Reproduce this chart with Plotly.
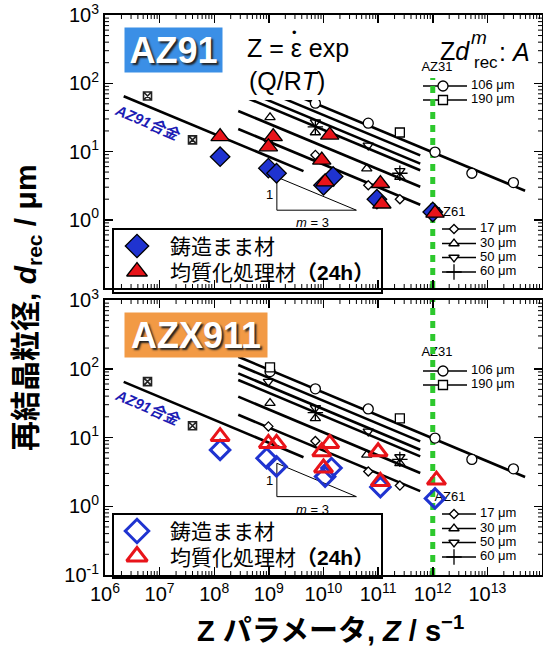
import plotly.graph_objects as go

W, H = 543, 648
FONT = "Liberation Sans, Arial, Noto Sans CJK JP"
JFONT = "Liberation Sans, Noto Sans CJK JP"

# ---------------- data ----------------
z_tick_exp = [6, 7, 8, 9, 10, 11, 12, 13]
d_tick_exp = [-1, 0, 1, 2, 3]

# AZ91 (top panel): as-cast (blue diamonds) / homogenized 24h (red triangles)
az91_cast_Z = [1.28e8, 9.8e8, 1.38e9, 1.5e10, 1.0e10, 9.5e10, 1.0e12]
az91_cast_d = [8.4, 5.7, 4.8, 4.3, 3.2, 2.0, 1.3]
az91_homo_Z = [1.28e8, 1.2e9, 9.8e8, 1.3e10, 9.3e9, 1.07e10, 1.1e11, 1.17e11, 1.1e12]
az91_homo_d = [16.5, 16.5, 11.7, 17.4, 7.5, 3.6, 3.4, 1.7, 1.25]

# AZX911 (bottom panel)
azx_cast_Z = [1.28e8, 9.1e8, 1.38e9, 1.4e10, 1.07e10, 1.1e11, 1.1e12]
azx_cast_d = [6.6, 5.0, 3.8, 3.6, 2.7, 1.9, 1.3]
azx_homo_Z = [1.28e8, 9.8e8, 1.38e9, 1.3e10, 9.3e9, 1.0e10, 1.0e11, 1.1e11, 1.17e12]
azx_homo_d = [10.3, 8.2, 8.2, 8.2, 6.2, 3.6, 6.2, 2.3, 2.4]

# literature: AZ31 (106, 190 um) and AZ61 (17, 30, 50, 60 um)
az31_106_Z = [1.05e9, 7.1e9, 6.6e10, 1.1e12, 5.2e12, 3.0e13]
az31_106_d = [91, 51, 26, 9.8, 4.8, 3.5]
az31_190_Z = [1.05e9, 2.5e11]
az31_190_d = [105, 19]
az61_17_Z = [9.8e8, 7.1e9, 6.6e10, 2.5e11]
az61_17_d = [14.5, 8.9, 3.2, 2.0]
az61_30_Z = [1.05e9, 7.1e9, 6.2e10, 2.5e11]
az61_30_d = [31.6, 19, 5.6, 4.2]
az61_50_Z = [9.8e8, 7.1e9, 6.6e10, 2.5e11]
az61_50_d = [65, 27, 12.3, 5.2]
az61_60_Z = [7.1e9, 2.5e11]
az61_60_d = [23, 4.8]

# AZ91 alloy literature (hatched squares)
az91lit_Z = [6.0e6, 4.0e7]
az91lit_d = [65, 14.8]

# Z d^m = A  (m = 3) fit lines
m_exp = 3
line_A = [9.2e14, 4.0e14, 1.73e14, 8.9e13, 1.67e13, 2.7e12]
line_Z_start = [2.75e8, 2.75e8, 2.75e8, 2.75e8, 2.75e8, 2.75e8]
line_Z_end = [4.9e13, 5.9e11, 5.9e11, 5.9e11, 5.9e11, 5.9e11]
az91_line_A = 5.9e11
az91_line_Z = [2.2e6, 4.3e9]

# slope triangle
tri_Z = [1.4e9, 4.0e10]
tri_d0 = 1.38

# ---------------- geometry helpers ----------------
XL, XR = 105, 542
PAN = {1: (15, 288), 2: (300, 575)}
X_RANGE = [6, 14]
Y_RANGE = [-1, 3]

def P(px, py):
    return px / W, 1 - py / H

def zx(px):
    return 10 ** (6 + 8 * (px - XL) / (XR - XL))

def dy(rel, row):
    t, b = PAN[row]
    return 10 ** (3 - 4 * rel / (b - t))

fig = go.Figure()
AX = {1: ("x", "y"), 2: ("x2", "y2")}

def add(row, **kw):
    xa, ya = AX[row]
    if kw.get("mode") in ("markers", "text"):
        kw.setdefault("cliponaxis", False)
    fig.add_trace(go.Scatter(xaxis=xa, yaxis=ya, showlegend=False, hoverinfo="skip", **kw))

def line_d(A, Z):
    return [(A / z) ** (1 / m_exp) for z in Z]

BLUE = "#1f33d0"
RED = "#e8141a"
GREEN = "#2dc82d"

def lit_marker(symbol, size):
    if symbol.endswith("-open"):
        return dict(symbol=symbol, size=size, color="black", line=dict(width=1.3, color="black"))
    return dict(symbol=symbol, size=size, color="white", line=dict(width=1.3, color="black"))

lit_sets = [
    (az31_106_Z, az31_106_d, "circle", 10),
    (az31_190_Z, az31_190_d, "square", 9),
    (az61_17_Z, az61_17_d, "diamond", 7),
    (az61_30_Z, az61_30_d, "triangle-up-open", 9),
    (az61_50_Z, az61_50_d, "triangle-down-open", 9),
    (az61_60_Z, az61_60_d, "cross-thin-open", 11),
]

data = {
    1: (az91_cast_Z, az91_cast_d, az91_homo_Z, az91_homo_d),
    2: (azx_cast_Z, azx_cast_d, azx_homo_Z, azx_homo_d),
}

def cast_marker(row, size=15):
    if row == 1:
        return dict(symbol="diamond", size=size, color=BLUE, line=dict(width=1.3, color="black"))
    return dict(symbol="diamond-open", size=size, color=BLUE, line=dict(width=3, color=BLUE))

def homo_marker(row, size=16):
    if row == 1:
        return dict(symbol="triangle-up", size=size, color=RED, line=dict(width=1.3, color="black"))
    return dict(symbol="triangle-up-open", size=size, color=RED, line=dict(width=3, color=RED))

TXT = dict(family=FONT, size=13, color="black")

# minor tick positions (axis decoration)
minor_x = [m * 10.0 ** k for k in range(X_RANGE[0], X_RANGE[1]) for m in range(2, 10)]
minor_y = [m * 10.0 ** k for k in range(Y_RANGE[0], Y_RANGE[1]) for m in range(2, 10)]
MINOR_LEN = 4

for row in (1, 2):
    t, b = PAN[row]
    # minor ticks on all four sides
    ly = MINOR_LEN * 4 / (b - t)
    lx = MINOR_LEN * 8 / (XR - XL)
    mx, my = [], []
    for v in minor_x:
        mx += [v, v, None, v, v, None]
        my += [10 ** Y_RANGE[0], 10 ** (Y_RANGE[0] + ly), None,
               10 ** Y_RANGE[1], 10 ** (Y_RANGE[1] - ly), None]
    for v in minor_y:
        mx += [10 ** X_RANGE[0], 10 ** (X_RANGE[0] + lx), None,
               10 ** X_RANGE[1], 10 ** (X_RANGE[1] - lx), None]
        my += [v, v, None, v, v, None]
    add(row, x=mx, y=my, mode="lines", line=dict(color="black", width=1))
    # fit lines
    for A, z0, z1 in zip(line_A, line_Z_start, line_Z_end):
        add(row, x=[z0, z1], y=line_d(A, [z0, z1]), mode="lines",
            line=dict(color="black", width=2.6))
    add(row, x=az91_line_Z, y=line_d(az91_line_A, az91_line_Z), mode="lines",
        line=dict(color="black", width=2.6))
    # slope triangle
    top = tri_d0 * (tri_Z[1] / tri_Z[0]) ** (1 / m_exp)
    add(row, x=[tri_Z[0], tri_Z[0], tri_Z[1], tri_Z[0]], y=[top, tri_d0, tri_d0, top],
        mode="lines", line=dict(color="black", width=1))
    # hatched squares
    add(row, x=az91lit_Z, y=az91lit_d, mode="markers",
        marker=dict(symbol="square-x-open", size=8, color="#222", line=dict(width=1.6, color="#222")))
    # labels AZ31 / AZ61
    add(row, x=[zx(437)], y=[dy(53, row)], mode="text", text=["AZ31"], textfont=TXT,
        textposition="middle center")
    add(row, x=[zx(450)], y=[dy(198, row)], mode="text", text=["AZ61"], textfont=TXT,
        textposition="middle center")
    # in-plot legend lines: AZ31
    for rel in [71, 85]:
        add(row, x=[zx(423), zx(467)], y=[dy(rel, row)] * 2, mode="lines",
            line=dict(color="black", width=1.6))
    # in-plot legend lines: AZ61
    for rel in [214, 228.5, 242.5, 257]:
        add(row, x=[zx(442), zx(476)], y=[dy(rel, row)] * 2, mode="lines",
            line=dict(color="black", width=1.6))
    # green dotted line at Z = 1e12
    gtop = dy(63, row) if row == 1 else dy(0, row)
    add(row, x=[1e12, 1e12], y=[0.1, gtop], mode="lines",
        line=dict(color=GREEN, width=5, dash="7px,6px"))
    # literature markers
    for Z, d, sym, sz in lit_sets:
        add(row, x=Z, y=d, mode="markers", marker=lit_marker(sym, sz))
    # legend markers + text
    for rel, (sym, sz, lab) in zip([71, 85], [("circle", 10, "106 μm"), ("square", 9, "190 μm")]):
        add(row, x=[zx(443)], y=[dy(rel, row)], mode="markers", marker=lit_marker(sym, sz))
        add(row, x=[zx(471)], y=[dy(rel, row)], mode="text", text=[lab], textfont=TXT,
            textposition="middle right")
    for rel, (sym, sz, lab) in zip([214, 228.5, 242.5, 257],
                                   [("diamond", 7, "17 μm"), ("triangle-up", 9, "30 μm"),
                                    ("triangle-down", 9, "50 μm"), ("cross-thin-open", 11, "60 μm")]):
        add(row, x=[zx(454)], y=[dy(rel, row)], mode="markers", marker=lit_marker(sym, sz))
        add(row, x=[zx(480)], y=[dy(rel, row)], mode="text", text=[lab], textfont=TXT,
            textposition="middle right")
    # measured data
    cZ, cd, hZ, hd = data[row]
    add(row, x=cZ, y=cd, mode="markers", marker=cast_marker(row))
    add(row, x=hZ, y=hd, mode="markers", marker=homo_marker(row))
    # legend box markers
    add(row, x=[zx(137)], y=[dy(231, row)], mode="markers", marker=cast_marker(row, 18))
    add(row, x=[zx(137)], y=[dy(256.5, row)], mode="markers", marker=homo_marker(row, 18))

# ---------------- axes ----------------
def axis_common():
    return dict(type="log", showline=True, linecolor="black", linewidth=2, mirror="allticks",
                ticks="inside", ticklen=8, tickwidth=1.5, tickcolor="black",
                showgrid=False, zeroline=False, automargin=False,
                tickfont=dict(family=FONT, size=20, color="black"))

z_vals = [10 ** k for k in z_tick_exp]
z_text = ["10<sup>%d</sup>" % k for k in z_tick_exp]
d_vals = [10.0 ** k for k in d_tick_exp]
d_text = ["10<sup>%d</sup>" % k for k in d_tick_exp]
d_text_top = [("" if k < 0 else "10<sup>%d</sup>" % k) for k in d_tick_exp]

XD = [XL / W, XR / W]
YD1 = [1 - PAN[1][1] / H, 1 - PAN[1][0] / H]
YD2 = [1 - PAN[2][1] / H, 1 - PAN[2][0] / H]

fig.update_layout(
    width=W, height=H, margin=dict(l=0, r=0, t=0, b=0, autoexpand=False),
    paper_bgcolor="white", plot_bgcolor="rgba(0,0,0,0)",
    xaxis=dict(axis_common(), domain=XD, anchor="y", range=X_RANGE,
               tickvals=z_vals, showticklabels=False),
    yaxis=dict(axis_common(), domain=YD1, anchor="x", range=Y_RANGE,
               tickvals=d_vals, ticktext=d_text_top),
    xaxis2=dict(axis_common(), domain=XD, anchor="y2", range=X_RANGE,
                tickvals=z_vals, ticktext=z_text),
    yaxis2=dict(axis_common(), domain=YD2, anchor="x2", range=Y_RANGE,
                tickvals=d_vals, ticktext=d_text),
)

# ---------------- shapes ----------------
shapes = []
for row in (1, 2):
    t = PAN[row][0]
    x0, y0 = P(113, t + 214)
    x1, y1 = P(382, t + 278)
    shapes.append(dict(type="rect", xref="paper", yref="paper", x0=x0, x1=x1, y0=y1, y1=y0,
                       fillcolor="white", line=dict(color="black", width=2), layer="below"))
# white box behind equation (top panel)
x0, y0 = P(234, 27)
x1, y1 = P(362, 100)
shapes.append(dict(type="rect", xref="paper", yref="paper", x0=x0, x1=x1, y0=y1, y1=y0,
                   fillcolor="white", line=dict(width=0), layer="above"))
fig.update_layout(shapes=shapes)

# ---------------- annotations ----------------
ann = []

def A(px, py, text, size, xanchor="center", yanchor="middle", color="black", family=FONT, **kw):
    x, y = P(px, py)
    d = dict(xref="paper", yref="paper", x=x, y=y, text=text, showarrow=False,
             xanchor=xanchor, yanchor=yanchor,
             font=dict(family=family, size=size, color=color))
    d.update(kw)
    ann.append(d)

for row, lab, col, (bx0, bx1) in [(1, "AZ91", "#3b8fe6", (125, 222)), (2, "AZX911", "#f29a45", (125, 267))]:
    t = PAN[row][0]
    x, y = P((bx0 + bx1) / 2, t + 35)
    ann.append(dict(xref="paper", yref="paper", x=x, y=y, text="<b>%s</b>" % lab, showarrow=False,
                    xanchor="center", yanchor="middle", bgcolor=col, borderpad=0,
                    width=bx1 - bx0, height=44,
                    font=dict(family=FONT, size=36, color="white", shadow="2px 2px 2px #222")))
    ann.append(dict(xref=AX[row][0], yref=AX[row][1], x=6.79, y=1.43, text="<b><i>AZ91合金</i></b>",
                    showarrow=False, textangle=23,
                    font=dict(family=JFONT, size=15, color="#1c1cb4")))
    ann.append(dict(xref=AX[row][0], yref=AX[row][1], x=9.02, y=0.37, text="1", showarrow=False,
                    font=dict(family=FONT, size=13, color="black")))
    ann.append(dict(xref=AX[row][0], yref=AX[row][1], x=9.8, y=-0.04, text="<i>m</i> = 3",
                    showarrow=False, font=dict(family=FONT, size=13, color="black")))
    A(168, t + 231, "鋳造まま材", 21, xanchor="left", family=JFONT)
    A(168, t + 257, "均質化処理材<b>（24h）</b>", 21, xanchor="left", family=JFONT)

# equations (top panel)
A(245, 48, "Z = ε exp", 25, xanchor="left")
A(294, 32, "•", 13)
A(247, 81, "(Q/R<i>T</i>)", 25, xanchor="left")
A(438, 51, "Z<i>d</i>", 25, xanchor="left")
A(469, 37, "<i>m</i>", 19, xanchor="left")
A(472, 63, "rec", 17, xanchor="left")
A(497, 52, ": <i>A</i>", 25, xanchor="left")

# axis titles
A(330, 629, "<b>Z パラメータ, <i>Z</i> / s<sup>−1</sup></b>", 29, family=JFONT)
A(27, 308, "<b>再結晶粒径, <i>d</i><sub>rec</sub> / μm</b>", 30, family=JFONT, textangle=-90)

fig.update_layout(annotations=ann)
fig.write_html("out.html", config={"displayModeBar": False, "staticPlot": True},
               post_script="document.body.style.margin='0';document.body.style.overflow='hidden';")
